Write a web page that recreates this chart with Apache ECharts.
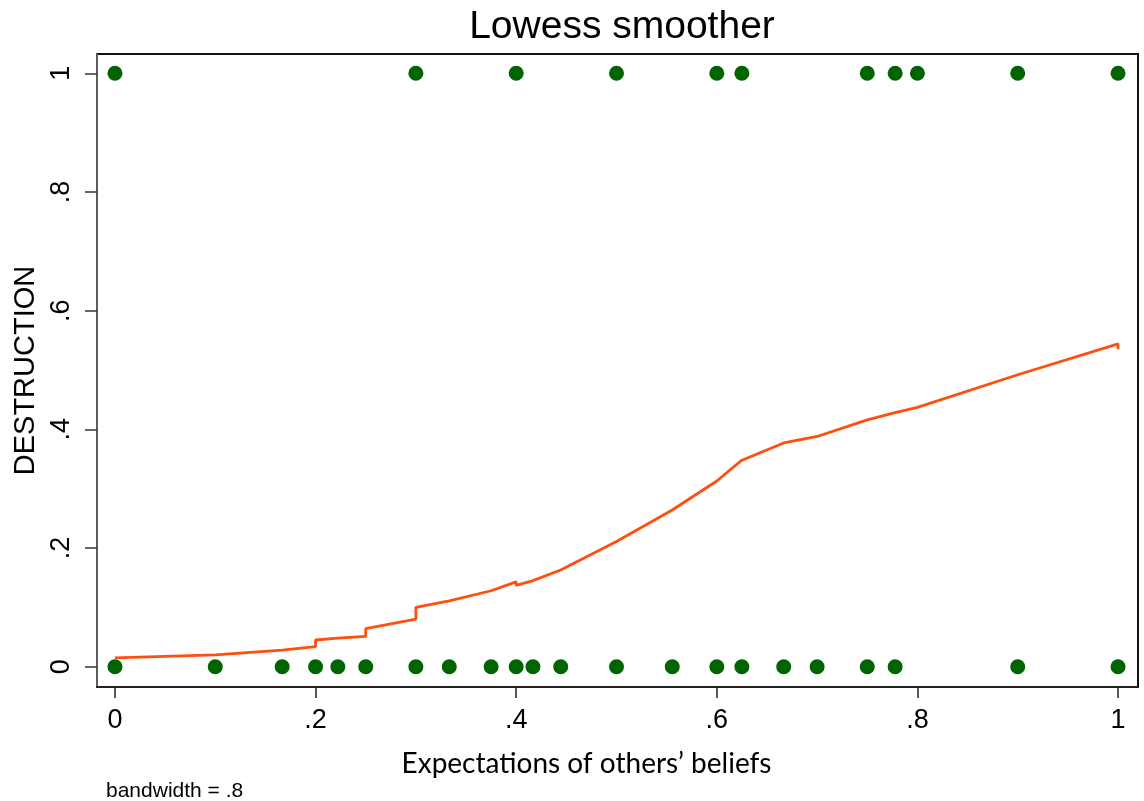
<!DOCTYPE html>
<html>
<head>
<meta charset="utf-8">
<script src="https://cdn.jsdelivr.net/npm/echarts@6/dist/echarts.min.js"></script>
<style>
html,body{margin:0;padding:0;background:#fff;}
#chart{width:1144px;height:801px;}
</style>
</head>
<body>
<div id="chart"></div>
<script>
// Observations with DESTRUCTION = 0
const xZero = [0, 0.1, 0.1667, 0.2, 0.2222, 0.25, 0.3, 0.3333, 0.375, 0.4, 0.4167, 0.4444, 0.5, 0.5556, 0.6, 0.625, 0.6667, 0.7, 0.75, 0.7778, 0.9, 1];
// Observations with DESTRUCTION = 1
const xOne = [0, 0.3, 0.4, 0.5, 0.6, 0.625, 0.75, 0.7778, 0.8, 0.9, 1];
// Lowess smoother (bandwidth .8)
const lowessX = [0, 0, 0.1, 0.1667, 0.2, 0.2, 0.2222, 0.25, 0.25, 0.3, 0.3, 0.3333, 0.375, 0.4, 0.4, 0.4167, 0.4444, 0.5, 0.5556, 0.6, 0.625, 0.6667, 0.7, 0.75, 0.7778, 0.8, 0.9, 1, 1];
const lowessY = [0.015, 0.012, 0.020, 0.028, 0.034, 0.045, 0.048, 0.051, 0.064, 0.080, 0.100, 0.111, 0.128, 0.143, 0.137, 0.145, 0.163, 0.211, 0.264, 0.313, 0.348, 0.377, 0.388, 0.416, 0.428, 0.437, 0.492, 0.544, 0.535];
const tickValues = [0, 0.2, 0.4, 0.6, 0.8, 1];
const tickLabels = ['0', '.2', '.4', '.6', '.8', '1'];

const fmt = v => {
  const i = tickValues.findIndex(t => Math.abs(t - v) < 1e-9);
  return i >= 0 ? tickLabels[i] : '';
};

const chart = echarts.init(document.getElementById('chart'), null, {renderer: 'canvas'});
chart.setOption({
  animation: false,
  backgroundColor: '#fff',
  title: [
    {text: 'Lowess smoother', left: 617, top: 3, textAlign: 'center',
     textStyle: {fontFamily: 'Liberation Sans, Arial', fontSize: 39, fontWeight: 'normal', color: '#000'}},
    {text: 'bandwidth = .8', left: 101, top: 776,
     textStyle: {fontFamily: 'Liberation Sans, Arial', fontSize: 21, fontWeight: 'normal', color: '#000'}}
  ],
  grid: {left: 97, right: 6, top: 54, bottom: 114, show: true, borderColor: '#111', borderWidth: 2, backgroundColor: '#fff'},
  xAxis: {
    type: 'value', min: -0.0179, max: 1.0199,
    name: 'Expectations of others\u2019 beliefs', nameLocation: 'middle', nameGap: 63,
    nameTextStyle: {fontFamily: 'Lato', fontSize: 28, color: '#000', padding: [0, 62, 0, 0]},
    axisLine: {show: true, onZero: false, lineStyle: {color: '#222', width: 2}},
    axisTick: {show: true, length: 11, customValues: tickValues, lineStyle: {color: '#222', width: 1.5}},
    axisLabel: {customValues: tickValues, formatter: fmt, margin: 20,
      fontFamily: 'Liberation Sans, Arial', fontSize: 27, color: '#000'},
    splitLine: {show: false}
  },
  yAxis: {
    type: 'value', min: -0.0342, max: 1.0325,
    name: 'DESTRUCTION', nameLocation: 'middle', nameGap: 55,
    nameTextStyle: {fontFamily: 'Liberation Sans, Arial', fontSize: 29, color: '#000'},
    axisLine: {show: true, onZero: false, lineStyle: {color: '#777', width: 1.5}},
    axisTick: {show: true, length: 12, customValues: tickValues, lineStyle: {color: '#333', width: 1.5}},
    axisLabel: {customValues: tickValues, formatter: fmt, margin: 22, rotate: 90,
      fontFamily: 'Liberation Sans, Arial', fontSize: 27, color: '#000'},
    splitLine: {show: false}
  },
  series: [
    {type: 'scatter', symbol: 'circle', symbolSize: 15, itemStyle: {color: '#006400', opacity: 1},
     data: xZero.map(x => [x, 0]), z: 3},
    {type: 'scatter', symbol: 'circle', symbolSize: 15, itemStyle: {color: '#006400', opacity: 1},
     data: xOne.map(x => [x, 1]), z: 3},
    {type: 'line', showSymbol: false, symbol: 'none', smooth: false,
     lineStyle: {color: '#ff4f0f', width: 2.8},
     data: lowessX.map((x, i) => [x, lowessY[i]]), z: 4}
  ]
});
</script>
</body>
</html>
